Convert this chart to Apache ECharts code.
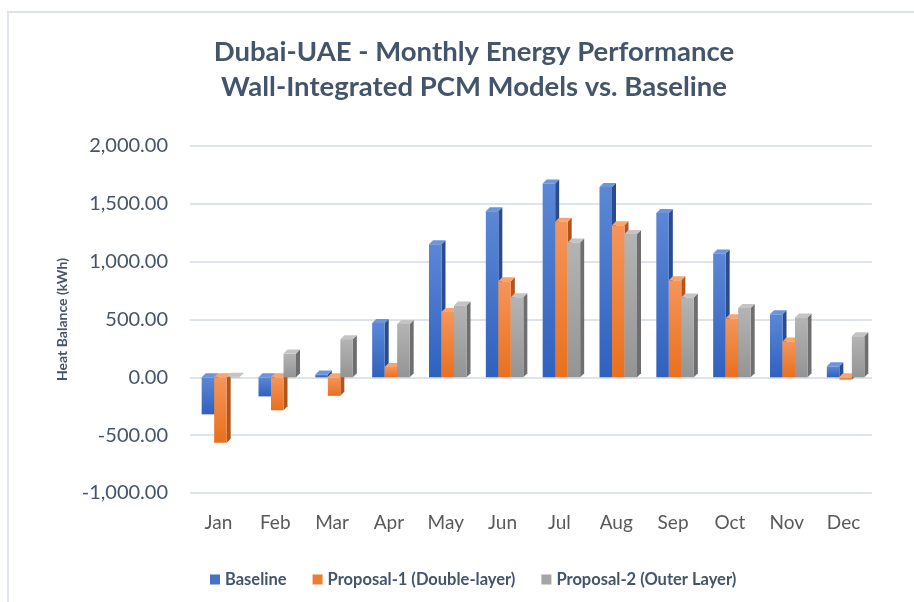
<!DOCTYPE html>
<html>
<head>
<meta charset="utf-8">
<script src="https://cdn.jsdelivr.net/npm/echarts@6/dist/echarts.min.js"></script>
<style>
  html, body { margin: 0; padding: 0; background: #fff; }
  #chart { width: 914px; height: 602px; }
</style>
</head>
<body>
<div id="chart"></div>
<script>
var months = ['Jan', 'Feb', 'Mar', 'Apr', 'May', 'Jun', 'Jul', 'Aug', 'Sep', 'Oct', 'Nov', 'Dec'];
var baseline = [-320, -165, 25, 470, 1150, 1435, 1675, 1645, 1420, 1070, 545, 95];
var proposal1 = [-565, -285, -160, 90, 565, 830, 1345, 1315, 840, 510, 310, -20];
var proposal2 = [5, 205, 330, 462, 620, 692, 1165, 1240, 690, 600, 518, 355];
var seriesNames = ['Baseline', 'Proposal-1 (Double-layer)', 'Proposal-2 (Outer Layer)'];

// front top, front bottom, side, cap
var palette = [
    ['#5b87d6', '#2f61bf', '#2a4c8c', '#6d95dc'],
    ['#f5955a', '#e9701e', '#b1551a', '#f7a46e'],
    ['#b4b4b4', '#949494', '#6e6e6e', '#c4c4c4']
];

function fmt(v) {
    var s = Math.abs(v).toFixed(2).replace(/\B(?=(\d{3})+(?!\d))/g, ',');
    return (v < 0 ? '-' : '') + s;
}

function renderBar(params, api) {
    var k = params.seriesIndex;
    var cat = api.value(0);
    var v = api.value(1);
    var p0 = api.coord([cat, 0]);
    var p1 = api.coord([cat, v]);
    var band = api.size([1, 0])[0];
    var w = band * 0.22;
    var x = p0[0] - 1.5 * w + k * w + 2;
    var yTop = Math.min(p0[1], p1[1]);
    var yBot = Math.max(p0[1], p1[1]);
    var d = 4;
    var c = palette[k];
    return {
        type: 'group',
        children: [
            {
                type: 'polygon',
                shape: { points: [[x + w, yTop], [x + w + d, yTop - d], [x + w + d, yBot - d], [x + w, yBot]] },
                style: { fill: c[2] }
            },
            {
                type: 'polygon',
                shape: { points: [[x, yTop], [x + d, yTop - d], [x + w + d, yTop - d], [x + w, yTop]] },
                style: { fill: c[3] }
            },
            {
                type: 'rect',
                shape: { x: x, y: yTop, width: w, height: Math.max(yBot - yTop, 0.5) },
                style: {
                    fill: new echarts.graphic.LinearGradient(0, 0, 0, 1, [
                        { offset: 0, color: c[0] },
                        { offset: 1, color: c[1] }
                    ])
                }
            }
        ]
    };
}

function makeSeries(name, values, k) {
    return {
        name: name,
        type: 'custom',
        renderItem: renderBar,
        itemStyle: { color: ['#4472c4', '#ed7d31', '#a5a5a5'][k] },
        encode: { x: 0, y: 1 },
        data: values.map(function (v, i) { return [i, v]; })
    };
}

var chart = echarts.init(document.getElementById('chart'));
chart.setOption({
    animation: false,
    backgroundColor: '#fff',
    graphic: [{
        type: 'rect',
        shape: { x: 8, y: 12, width: 940, height: 640 },
        style: { fill: 'none', stroke: '#dfe3ea', lineWidth: 2 },
        silent: true
    }],
    title: {
        text: 'Dubai-UAE - Monthly Energy Performance\nWall-Integrated PCM Models vs. Baseline',
        left: 469,
        textAlign: 'center',
        top: 30,
        textStyle: {
            fontFamily: 'Lato',
            fontSize: 27.5,
            fontWeight: 'bold',
            color: '#44546a',
            lineHeight: 35
        }
    },
    legend: {
        left: 205,
        top: 566,
        icon: 'rect',
        itemWidth: 10,
        itemHeight: 10,
        itemGap: 26,
        data: seriesNames,
        textStyle: {
            fontFamily: 'Lato',
            fontSize: 16.5,
            fontWeight: 'bold',
            color: '#44546a'
        }
    },
    grid: { left: 190, right: 42, top: 146, bottom: 109 },
    xAxis: {
        type: 'category',
        data: months,
        axisLine: { show: false, onZero: false },
        axisTick: { show: false },
        axisLabel: {
            margin: 20,
            fontFamily: 'Lato',
            fontSize: 19,
            color: '#595959'
        }
    },
    yAxis: {
        type: 'value',
        min: -1000,
        max: 2000,
        interval: 500,
        name: 'Heat Balance (kWh)',
        nameLocation: 'middle',
        nameGap: 121,
        nameTextStyle: {
            fontFamily: 'Lato',
            fontSize: 14,
            fontWeight: 'bold',
            color: '#44546a'
        },
        axisLine: { show: false },
        axisTick: { show: false },
        splitLine: { lineStyle: { color: '#dfe3ea', width: 2 } },
        axisLabel: {
            margin: 22,
            fontFamily: 'Lato',
            fontSize: 20,
            color: '#44546a',
            formatter: fmt
        }
    },
    series: [
        makeSeries(seriesNames[0], baseline, 0),
        makeSeries(seriesNames[1], proposal1, 1),
        makeSeries(seriesNames[2], proposal2, 2)
    ]
});
</script>
</body>
</html>
